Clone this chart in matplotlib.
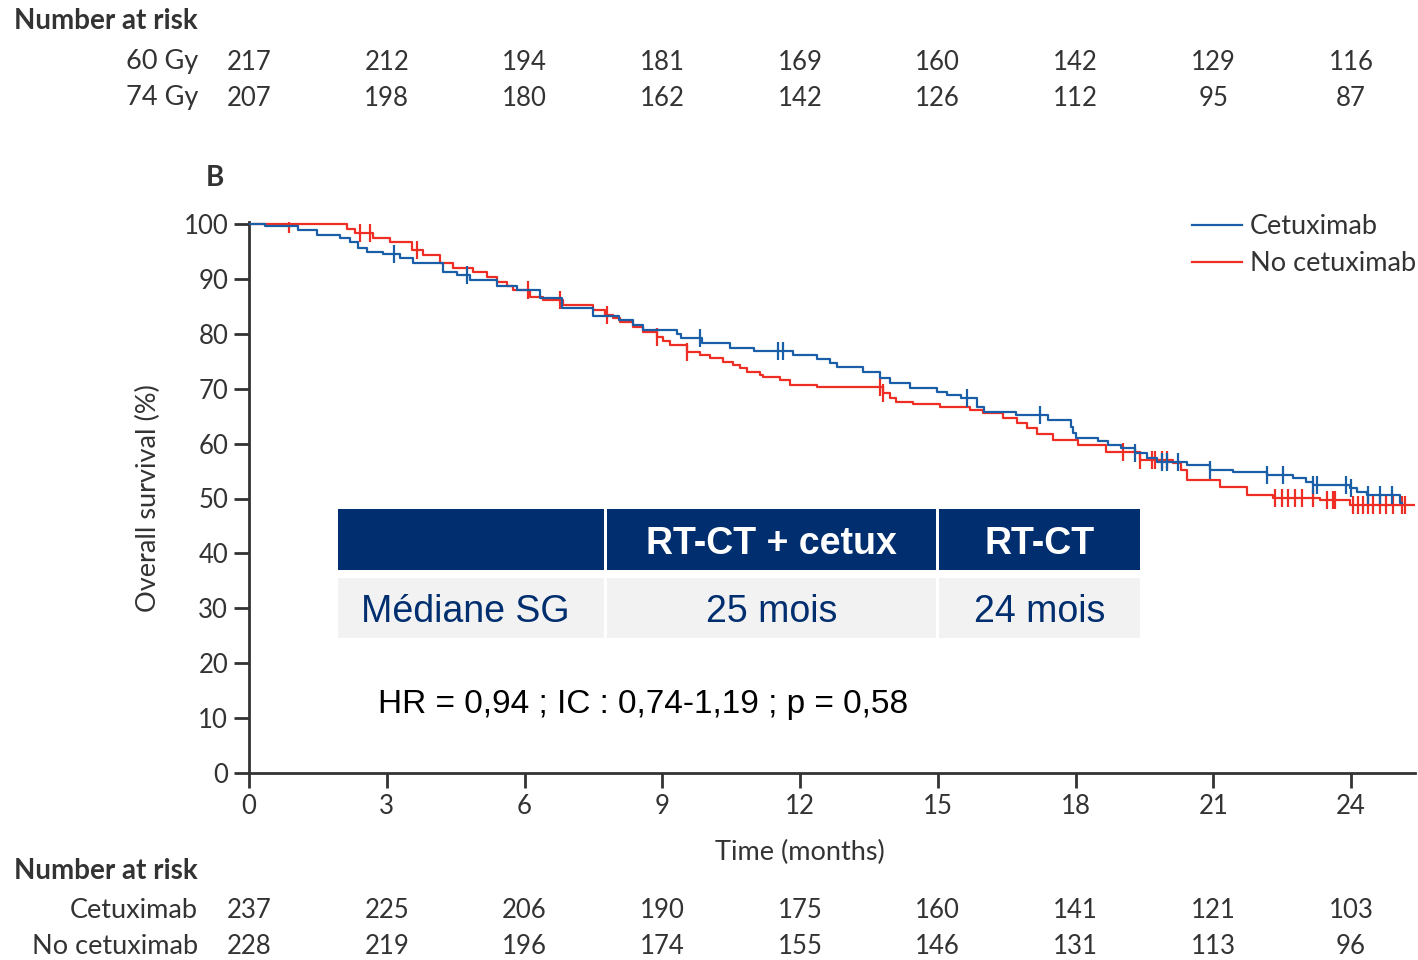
import numpy as np
import matplotlib
matplotlib.use("Agg")
import matplotlib.pyplot as plt
from matplotlib.patches import Rectangle
from matplotlib.lines import Line2D
from matplotlib.transforms import blended_transform_factory

# ---------------- data ----------------
months_ticks = [0, 3, 6, 9, 12, 15, 18, 21, 24]
y_ticks = [0, 10, 20, 30, 40, 50, 60, 70, 80, 90, 100]

risk_top_labels = ["60 Gy", "74 Gy"]
risk_60gy = [217, 212, 194, 181, 169, 160, 142, 129, 116]
risk_74gy = [207, 198, 180, 162, 142, 126, 112, 95, 87]

risk_bot_labels = ["Cetuximab", "No cetuximab"]
risk_cetux = [237, 225, 206, 190, 175, 160, 141, 121, 103]
risk_nocetux = [228, 219, 196, 174, 155, 146, 131, 113, 96]

series_names = ["Cetuximab", "No cetuximab"]

cetux_t = [0, 0.35, 1.07, 1.48, 1.98, 2.2, 2.37, 2.57, 2.92, 3.29, 3.57, 4.22, 4.53, 4.81,
           5.40, 5.84, 6.34, 6.82, 7.49, 8.05, 8.36, 8.58, 9.32, 9.40, 9.87, 10.47, 11.0,
           11.85, 12.37, 12.65, 12.80, 13.37, 13.74, 13.96, 14.4, 14.98, 15.2, 15.5, 15.85,
           16.0, 16.7, 17.4, 17.9, 17.95, 18.0, 18.5, 18.7, 19.0, 19.3, 19.55, 19.77, 20.42,
           20.93, 21.43, 22.17, 22.74, 23.03, 23.17, 23.98, 24.13, 24.35, 25.07, 25.12]
cetux_s = [100, 99.6, 98.9, 98.0, 97.4, 96.7, 95.6, 94.9, 94.5, 93.8, 92.9, 91.3, 90.7, 89.8,
           88.7, 88.0, 86.5, 84.7, 83.2, 82.5, 81.6, 80.7, 79.9, 79.2, 78.3, 77.4, 76.9,
           76.1, 75.4, 74.7, 74.0, 73.0, 71.9, 71.0, 70.1, 69.4, 68.9, 68.3, 66.7,
           65.8, 65.2, 64.3, 63.0, 62.0, 61.0, 60.4, 59.7, 59.2, 58.3, 57.4, 56.7, 56.1,
           55.2, 54.8, 54.2, 53.7, 53.0, 52.5, 51.9, 51.2, 50.6, 49.2, 49.2]
cetux_cens = [3.16, 4.75, 9.82, 11.52, 11.63, 15.63, 17.22, 19.3, 19.88, 19.99, 20.23, 20.93,
              22.17, 22.52, 23.17, 23.25, 23.9, 24.0, 24.37, 24.63, 24.89]

nocetux_t = [0, 2.13, 2.3, 2.71, 3.07, 3.55, 3.8, 4.16, 4.45, 4.88, 5.18, 5.4, 5.62, 5.76,
             6.12, 6.41, 6.84, 7.49, 7.75, 7.93, 8.08, 8.36, 8.58, 8.88, 9.02, 9.17, 9.53,
             9.82, 10.03, 10.32, 10.55, 10.69, 10.84, 11.13, 11.2, 11.56, 11.78, 12.36, 13.8,
             13.96, 14.1, 14.46, 15.05, 15.7, 15.99, 16.43, 16.72, 16.94, 17.16, 17.5, 18.05,
             18.67, 19.4, 20.13, 20.3, 20.42, 21.15, 21.73, 22.3, 23.32, 23.98, 25.4]
nocetux_s = [100, 99.1, 98.3, 97.4, 96.7, 95.3, 94.4, 92.9, 92.0, 91.3, 90.4, 89.5, 88.7, 88.0,
             86.7, 86.2, 85.2, 84.3, 83.4, 82.9, 82.1, 81.3, 80.4, 79.5, 78.6, 78.0, 76.7,
             76.1, 75.6, 74.9, 74.3, 73.8, 73.0, 72.5, 72.1, 71.6, 70.7, 70.3, 69.2,
             68.3, 67.6, 67.2, 66.7, 66.1, 65.6, 64.7, 63.8, 62.8, 61.8, 60.7, 59.7,
             58.5, 57.0, 56.4, 55.2, 53.4, 52.1, 50.6, 50.1, 49.7, 48.8, 48.8]
nocetux_cens = [0.87, 2.42, 2.63, 3.66, 6.07, 6.77, 7.8, 8.88, 9.53, 13.74, 13.8, 19.03, 19.4,
                19.66, 19.73, 19.88, 19.99, 22.34, 22.5, 22.63, 22.78, 22.93, 23.17, 23.47,
                23.6, 23.65, 24.05, 24.15, 24.26, 24.37, 24.48, 24.63, 24.77, 24.92, 25.1, 25.17]

table_header = ["", "RT-CT + cetux", "RT-CT"]
table_row = ["Médiane SG", "25 mois", "24 mois"]
hr_text = "HR = 0,94 ; IC : 0,74-1,19 ; p = 0,58"

# ---------------- style ----------------
W, H = 1418, 960
BLUE = "#1b5ea8"
RED = "#ee2e24"
NAVY = "#002e6e"
LIGHT = "#f2f2f2"
TXT = "#333333"
FONT = "Lato"
TFONT = "Liberation Sans"

plt.rcParams["font.family"] = [FONT, "DejaVu Sans"]

fig = plt.figure(figsize=(W / 100, H / 100), dpi=100)


def fx(px):
    return px / W


def fy(py):
    return 1 - py / H


ax = fig.add_axes([fx(249), fy(773), fx(1415) - fx(249), fy(222) - fy(773)])
ax.set_xlim(0, (1415 - 249) / ((1351 - 249) / 24))
ax.set_ylim(0, 100 * (773 - 222) / (773 - 224))
for s in ["top", "right"]:
    ax.spines[s].set_visible(False)
for s in ["left", "bottom"]:
    ax.spines[s].set_linewidth(2.0)
    ax.spines[s].set_color(TXT)
ax.set_xticks(months_ticks)
ax.set_yticks(y_ticks)
ax.tick_params(axis="both", direction="out", length=11, width=2.0, color=TXT,
               labelsize=18.5, labelcolor=TXT, pad=4)


def step_value(t, s, tc):
    t = np.asarray(t)
    s = np.asarray(s)
    idx = np.searchsorted(t, tc, side="right") - 1
    return s[np.clip(idx, 0, len(s) - 1)]


for t, s, cens, col, z in [(cetux_t, cetux_s, cetux_cens, BLUE, 3),
                           (nocetux_t, nocetux_s, nocetux_cens, RED, 2)]:
    ax.step(t, s, where="post", color=col, lw=1.6, zorder=z)
    cy = step_value(t, s, np.asarray(cens))
    ax.plot(cens, cy, ls="none", marker="|", ms=13, mew=1.6, color=col, zorder=z)

handles = [Line2D([], [], color=BLUE, lw=1.6), Line2D([], [], color=RED, lw=1.6)]
leg = fig.legend(handles, series_names, loc="upper left",
                 bbox_to_anchor=(fx(1192), fy(214)),
                 frameon=False, fontsize=19.5, handlelength=1.85, handletextpad=0.3,
                 labelspacing=0.45, borderaxespad=0, borderpad=0)
for tx in leg.get_texts():
    tx.set_color(TXT)

fig.text(fx(800), fy(852), "Time (months)", fontsize=19.5, color=TXT,
         ha="center", va="center")
fig.text(fx(148), fy(498), "Overall survival (%)", fontsize=19.5, color=TXT,
         ha="center", va="center", rotation=90)

fig.text(fx(215), fy(178), "B", fontsize=20, fontweight="bold", color=TXT,
         ha="center", va="center")

# number at risk tables
btr = blended_transform_factory(ax.transData, fig.transFigure)


def risk_table(title_y, row_ys, labels, rows):
    fig.text(fx(14), fy(title_y), "Number at risk", fontsize=20, fontweight="bold",
             color=TXT, ha="left", va="center")
    for ry, lab, vals in zip(row_ys, labels, rows):
        fig.text(fx(198), fy(ry), lab, fontsize=19.5, color=TXT, ha="right", va="center")
        for m, v in zip(months_ticks, vals):
            fig.text(m, fy(ry), str(v), fontsize=18.5, color=TXT, ha="center", va="center",
                     transform=btr)


risk_table(21, [62, 98], risk_top_labels, [risk_60gy, risk_74gy])
risk_table(871, [911, 947], risk_bot_labels, [risk_cetux, risk_nocetux])

# summary table overlay
cols = [(338, 604), (607, 936), (939, 1140)]
for (x0, x1), htxt, rtxt, i in zip(cols, table_header, table_row, range(3)):
    fig.add_artist(Rectangle((fx(x0), fy(570)), fx(x1) - fx(x0), fy(509) - fy(570),
                             transform=fig.transFigure, facecolor=NAVY, edgecolor="none",
                             zorder=5))
    fig.add_artist(Rectangle((fx(x0), fy(638)), fx(x1) - fx(x0), fy(578) - fy(638),
                             transform=fig.transFigure, facecolor=LIGHT, edgecolor="none",
                             zorder=5))
    cx = (x0 + x1) / 2
    if htxt:
        fig.text(fx(cx), fy(544), htxt, fontsize=27, fontweight="bold", color="white",
                 family=TFONT, ha="center", va="center", zorder=6)
    fig.text(fx(cx - 6 if i == 0 else cx), fy(612), rtxt, fontsize=27, color=NAVY,
             family=TFONT, ha="center", va="center", zorder=6)

fig.text(fx(378), fy(704), hr_text, fontsize=24, color="black", family=TFONT,
         ha="left", va="center", zorder=6)

fig.savefig("out.png", dpi=100)
